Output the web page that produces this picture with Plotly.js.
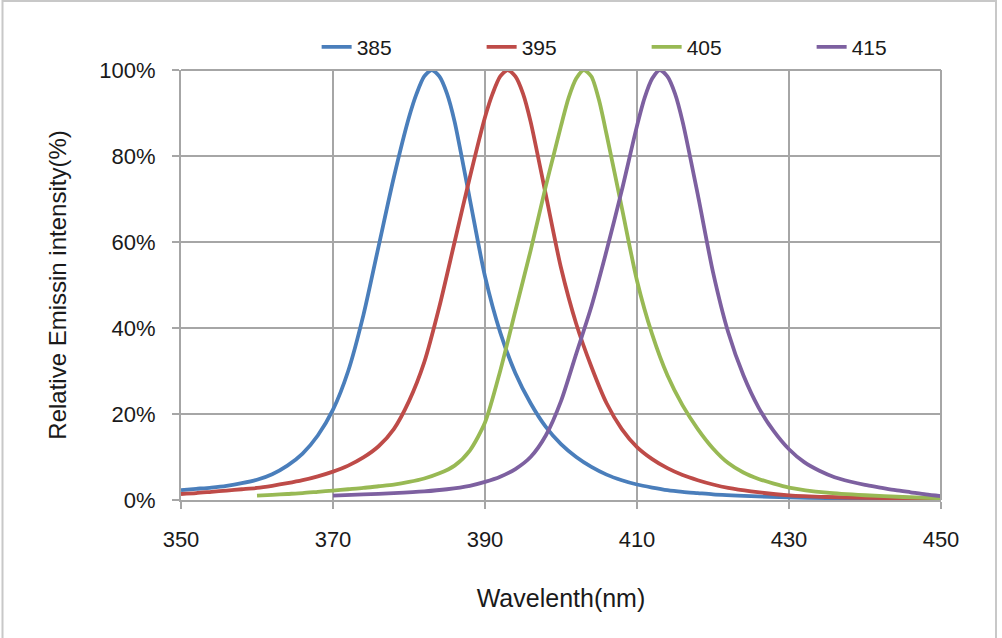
<!DOCTYPE html>
<html>
<head>
<meta charset="utf-8">
<script src="https://cdn.plot.ly/plotly-3.0.1.min.js"></script>
<style>html,body{margin:0;padding:0;background:#fff;} #chart{width:1002px;height:638px;}</style>
</head>
<body>
<div id="chart"></div>
<script>
// Series names
const seriesNames = ["385", "395", "405", "415"];

// 385 nm curve
const x385 = [350,352,354,356,358,360,362,364,366,368,370,372,374,376,378,380,381,382,383,384,385,386,388,390,392,394,396,398,400,402,404,406,408,410,412,414,416,418,420,425,430,435,440,450];
const y385 = [2.3,2.6,2.9,3.3,3.9,4.7,6.0,8.0,10.8,15.0,21,30,43,59,75,89,94.5,98.5,100,98.5,94.5,88,70,52,39,29.5,22.5,17,13,10,7.7,5.9,4.6,3.6,2.9,2.3,1.9,1.6,1.3,0.9,0.6,0.45,0.35,0.2];

// 395 nm curve
const x395 = [350,352,354,356,358,360,362,364,366,368,370,372,374,376,378,380,382,384,386,388,390,391,392,393,394,395,396,398,400,402,404,406,408,410,412,414,416,418,420,422,425,430,435,440,450];
const y395 = [1.4,1.6,1.9,2.2,2.5,2.8,3.3,3.9,4.6,5.5,6.6,8.0,9.9,12.5,16.5,23,32,45,60,75,89,94.5,98.5,100,98.5,94.5,88,71,54,41,31,22.5,16.5,12.3,9.5,7.4,5.8,4.6,3.6,2.8,2.0,1.1,0.7,0.5,0.3];

// 405 nm curve
const x405 = [360,362,364,366,368,370,372,374,376,378,380,382,384,386,388,390,392,394,396,398,399,400,401,402,403,404,405,406,408,410,412,414,416,418,420,422,424,426,428,430,435,440,445,450];
const y405 = [1.0,1.2,1.4,1.6,1.9,2.2,2.5,2.8,3.2,3.6,4.2,5.0,6.2,8.0,11.5,18,30,44,58,73,80,87,93.5,98,100,98.5,93,85,68,51,38.5,29,22,16.5,12,8.6,6.4,4.9,3.8,2.9,1.7,1.1,0.7,0.4];

// 415 nm curve
const x415 = [370,374,378,382,385,388,390,392,394,396,398,400,402,404,406,408,410,411,412,413,414,415,416,418,420,422,424,426,428,430,432,434,436,438,440,442,444,446,448,450];
const y415 = [1.0,1.3,1.6,2.0,2.5,3.3,4.2,5.4,7.2,10.0,15.0,23,34,45,58,72,87,93.5,98,100,98.5,94.5,88,71,53,39,29,21.5,16,11.8,8.8,6.8,5.3,4.3,3.5,2.9,2.3,1.8,1.3,0.9];

const xs = [x385, x395, x405, x415];
const ys = [y385, y395, y405, y415];
const colors = ["#4A7EBB", "#BE4B48", "#98B954", "#7D60A0"];

const traces = seriesNames.map((n, i) => ({
  type: "scatter",
  mode: "lines",
  name: n,
  x: xs[i],
  y: ys[i],
  line: {color: colors[i], width: 3.8, shape: "spline", smoothing: 0.7}
}));

const gridColor = "#A6A6A6";
const layout = {
  width: 1002,
  height: 638,
  margin: {l: 181, r: 61, t: 70, b: 138, autoexpand: false},
  paper_bgcolor: "#fff",
  plot_bgcolor: "#fff",
  font: {family: "Liberation Sans, Arial, sans-serif", color: "#1a1a1a"},
  showlegend: true,
  legend: {
    orientation: "h",
    xref: "container", yref: "container",
    x: 0.316, xanchor: "left",
    y: 0.926, yanchor: "middle",
    font: {size: 21, color: "#1a1a1a"},
    entrywidth: 120, entrywidthmode: "pixels",
    itemwidth: 30,
    bgcolor: "rgba(0,0,0,0)"
  },
  xaxis: {
    range: [350, 450],
    tick0: 350, dtick: 20,
    showgrid: true, gridcolor: gridColor, gridwidth: 2,
    showline: true, linecolor: gridColor, linewidth: 2,
    zeroline: false,
    ticks: "outside", ticklen: 7, tickwidth: 2, tickcolor: gridColor,
    tickfont: {size: 22, color: "#1a1a1a"},
    ticklabelstandoff: 12,
    title: {text: "Wavelenth(nm)", font: {size: 25, color: "#1a1a1a"}, standoff: 38}
  },
  yaxis: {
    range: [0, 100],
    tick0: 0, dtick: 20,
    ticksuffix: "%",
    showgrid: true, gridcolor: gridColor, gridwidth: 2,
    showline: true, linecolor: gridColor, linewidth: 2,
    zeroline: false,
    ticks: "outside", ticklen: 7, tickwidth: 2, tickcolor: gridColor,
    tickfont: {size: 22, color: "#1a1a1a"},
    ticklabelstandoff: 12,
    title: {text: "Relative Emissin intensity(%)", font: {size: 24, color: "#1a1a1a"}, standoff: 26}
  },
  shapes: [
    {type: "line", xref: "paper", yref: "paper", x0: 0, x1: 1, y0: 1, y1: 1, line: {color: gridColor, width: 2}},
    {type: "line", xref: "paper", yref: "paper", x0: 1, x1: 1, y0: 0, y1: 1, line: {color: gridColor, width: 2}}
  ]
};

Plotly.newPlot("chart", traces, layout, {displayModeBar: false, staticPlot: true}).then(() => {
  // outer chart frame (left, top, right edges)
  const svg = document.querySelector("#chart .main-svg");
  const ns = "http://www.w3.org/2000/svg";
  const frame = [[2.5,0,2.5,638],[2.5,1,996,1],[996,0,996,638]];
  frame.forEach(f => {
    const l = document.createElementNS(ns, "line");
    l.setAttribute("x1", f[0]); l.setAttribute("y1", f[1]);
    l.setAttribute("x2", f[2]); l.setAttribute("y2", f[3]);
    l.setAttribute("stroke", "#C8C8C8"); l.setAttribute("stroke-width", "2");
    svg.appendChild(l);
  });
});
</script>
</body>
</html>
